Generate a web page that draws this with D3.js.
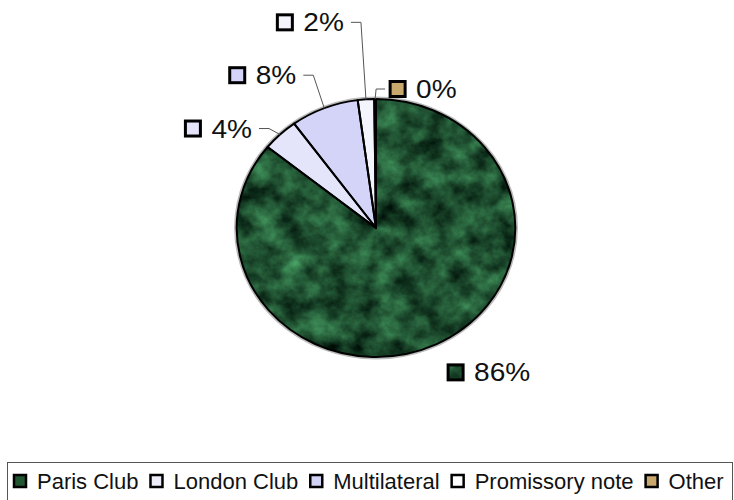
<!DOCTYPE html>
<html>
<head>
<meta charset="utf-8">
<script src="https://cdn.jsdelivr.net/npm/d3@7/dist/d3.min.js"></script>
<style>
  html, body { margin: 0; padding: 0; background: #fff; }
  svg { display: block; font-family: "Liberation Sans", Arial, sans-serif; }
</style>
</head>
<body>
<svg id="chart" width="734" height="500"></svg>
<script>
// Debt composition by creditor
const categories = ['Paris Club', 'London Club', 'Multilateral', 'Promissory note', 'Other'];
const shares = [85.8, 4.2, 7.9, 1.9, 0.2];
const labelText = ['86%', '4%', '8%', '2%', '0%'];

// slice fills (Paris Club gets the marble texture on top of its base colour)
const fills = ['#225631', '#e4e4fb', '#d4d4f8', '#f4f4fd', '#c9a86e'];
const legendFills = ['#225631', '#ececf8', '#d2d2f4', '#ffffff', '#c9a86e'];

// how far each data label was dragged from its slice edge (elbow of leader)
const labelNudge = [[12, 28], [-11, -6], [-11, -33], [-5, -77], [1, -10]];
const labelSide = ['right', 'left', 'left', 'left', 'right'];

const width = 734, height = 500;
const cx = 376, cy = 228, r = 129, sx = 1.08; // pie is slightly stretched horizontally

const svg = d3.select('#chart');

// Marble-like texture for the Paris Club slice
const defs = svg.append('defs');
const f = defs.append('filter').attr('id', 'marble')
  .attr('color-interpolation-filters', 'sRGB')
  .attr('x', '-5%').attr('y', '-5%').attr('width', '110%').attr('height', '110%');
f.append('feTurbulence')
  .attr('type', 'fractalNoise')
  .attr('baseFrequency', '0.045')
  .attr('numOctaves', 4)
  .attr('seed', 7)
  .attr('result', 'noise');
f.append('feColorMatrix')
  .attr('in', 'noise')
  .attr('type', 'matrix')
  .attr('values', '0.36 0 0 0 -0.055  0.72 0 0 0 -0.04  0.46 0 0 0 -0.035  0 0 0 0 1')
  .attr('result', 'col');
f.append('feComposite').attr('in', 'col').attr('in2', 'SourceGraphic').attr('operator', 'in');

// Pie
const pie = d3.pie().sort(null).value(d => d)(shares);
const arc = d3.arc().innerRadius(0).outerRadius(r);

const pieG = svg.append('g')
  .attr('transform', `translate(${cx},${cy}) scale(${sx},1)`);

// soft shadow ring
pieG.append('circle').attr('r', r + 1.5)
  .attr('fill', 'none').attr('stroke', '#bbb').attr('stroke-width', 2)
  .attr('vector-effect', 'non-scaling-stroke');

pieG.selectAll('path.fill')
  .data(pie)
  .enter()
  .append('path')
  .attr('class', 'fill')
  .attr('d', arc)
  .attr('fill', (d, i) => fills[i])
  .attr('filter', (d, i) => i === 0 ? 'url(#marble)' : null);

pieG.selectAll('path.edge')
  .data(pie)
  .enter()
  .append('path')
  .attr('class', 'edge')
  .attr('d', arc)
  .attr('fill', 'none')
  .attr('stroke', '#000')
  .attr('stroke-width', 2)
  .attr('stroke-linejoin', 'round')
  .attr('vector-effect', 'non-scaling-stroke');

// Data labels with leader lines
const labelG = svg.append('g');

pie.forEach((d, i) => {
  const mid = (d.startAngle + d.endAngle) / 2;
  const ax = cx + sx * r * Math.sin(mid);
  const ay = cy - r * Math.cos(mid);
  const ex = ax + labelNudge[i][0];
  const ey = ay + labelNudge[i][1];
  const hasLeader = i !== 0;

  const g = labelG.append('g');
  const text = g.append('text')
    .attr('font-size', 26)
    .attr('fill', '#111')
    .text(labelText[i]);
  const tw = text.node().getComputedTextLength() * sx;

  let markerX;
  let textX;
  if (labelSide[i] === 'left') {
    const endX = ex - 10;
    if (hasLeader) {
      g.append('polyline')
        .attr('points', `${endX},${ey} ${ex},${ey} ${ax},${ay}`)
        .attr('fill', 'none').attr('stroke', '#555').attr('stroke-width', 1);
    }
    textX = endX - 7 - tw;
    markerX = textX - 10 - 16;
  } else {
    let startX = ex;
    if (hasLeader) {
      startX = ex + 9;
      g.append('polyline')
        .attr('points', `${startX},${ey} ${ex},${ey} ${ax},${ay}`)
        .attr('fill', 'none').attr('stroke', '#555').attr('stroke-width', 1);
      startX += 5;
    }
    markerX = startX;
    textX = markerX + 16 + 10;
  }

  text.attr('transform', `translate(${textX},${ey + 9}) scale(${sx},1)`);
  g.append('rect')
    .attr('x', markerX).attr('y', ey - 7.5)
    .attr('width', 15).attr('height', 15)
    .attr('fill', fills[i])
    .attr('filter', i === 0 ? 'url(#marble)' : null);
  g.append('rect')
    .attr('x', markerX).attr('y', ey - 7.5)
    .attr('width', 15).attr('height', 15)
    .attr('fill', 'none').attr('stroke', '#000').attr('stroke-width', 3);
});

// Legend
const legend = svg.append('g');
legend.append('rect')
  .attr('x', 7.5).attr('y', 462.5)
  .attr('width', 725).attr('height', 50)
  .attr('fill', '#fff').attr('stroke', '#555').attr('stroke-width', 1);

let lx = 13;
const ly = 481;
categories.forEach((name, i) => {
  legend.append('rect')
    .attr('x', lx + 1).attr('y', ly - 6)
    .attr('width', 12).attr('height', 12)
    .attr('fill', legendFills[i])
    .attr('stroke', '#000').attr('stroke-width', 2.5);
  const t = legend.append('text')
    .attr('x', lx + 15 + 9).attr('y', ly + 7.5)
    .attr('font-size', 22)
    .attr('fill', '#111')
    .text(name);
  lx += 15 + 9 + t.node().getComputedTextLength() + 11;
});
</script>
</body>
</html>
